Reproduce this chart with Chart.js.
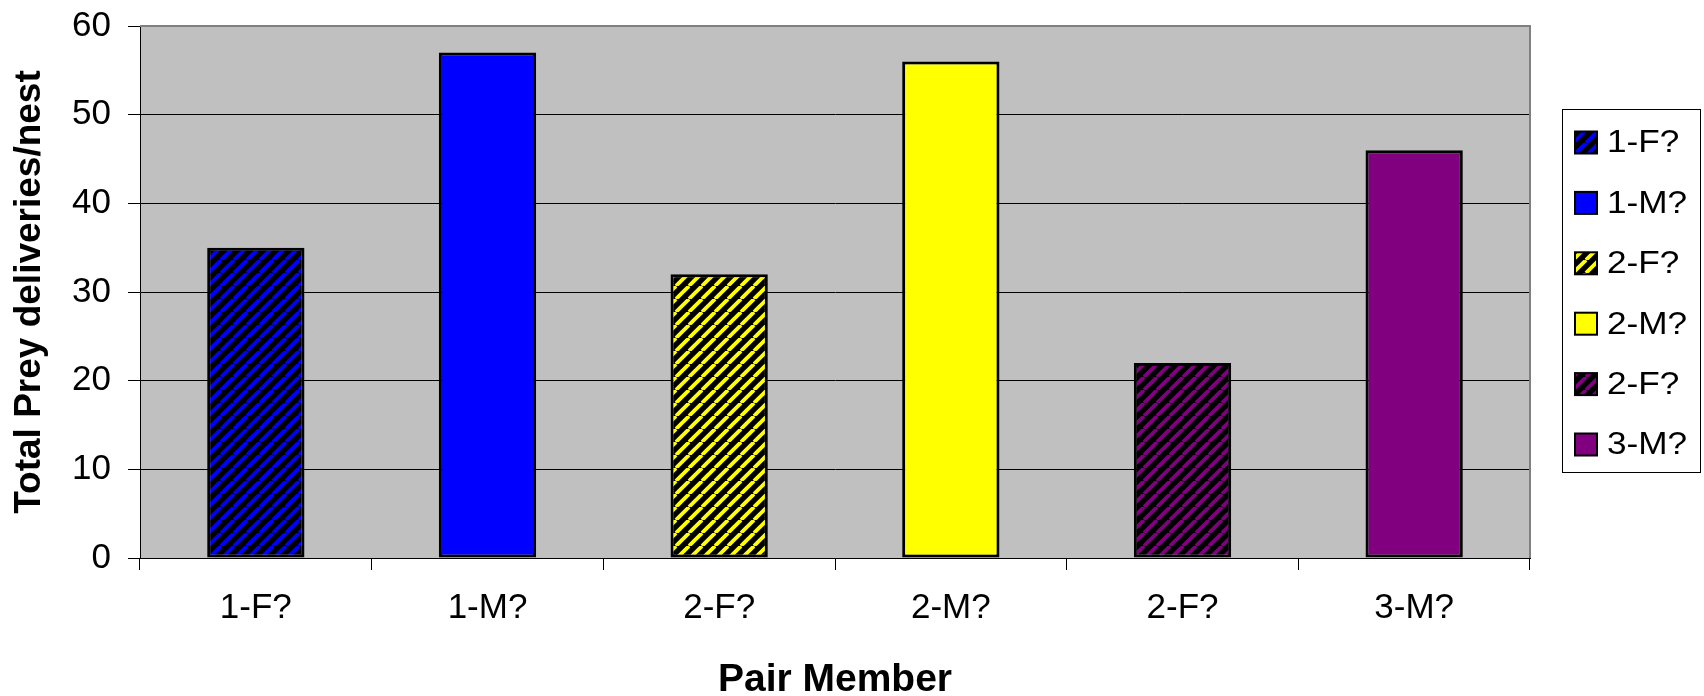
<!DOCTYPE html>
<html>
<head>
<meta charset="utf-8">
<script src="https://cdn.jsdelivr.net/npm/chart.js@4.4.1/dist/chart.umd.min.js"></script>
<style>
  html, body { margin: 0; padding: 0; background: #fff; }
  canvas { display: block; }
</style>
</head>
<body>
<canvas id="chart" width="1704" height="696"></canvas>
<script>
// Prey deliveries per nest, by pair member
const categories = ['1-F?', '1-M?', '2-F?', '2-M?', '2-F?', '3-M?'];
const deliveries = [35, 57, 32, 56, 22, 46];
const barColors = ['#0000FF', '#0000FF', '#FFFF00', '#FFFF00', '#800080', '#800080'];
const hatched = [true, false, true, false, true, false];
const yMin = 0, yMax = 60, yStep = 10;
const xTitle = 'Pair Member';
const yTitle = 'Total Prey deliveries/nest';

const FONT = '"Liberation Sans", Arial, sans-serif';

// Black-on-colour upward diagonal stripes
function stripePattern(color) {
  const P = 13;
  const c = document.createElement('canvas');
  c.width = P; c.height = P;
  const g = c.getContext('2d');
  g.fillStyle = '#000';
  g.fillRect(0, 0, P, P);
  g.strokeStyle = color;
  g.lineWidth = 3.8;
  for (let k = -1; k <= 1; k++) {
    g.beginPath();
    g.moveTo(k * P, P);
    g.lineTo(k * P + P, 0);
    g.stroke();
  }
  return g.createPattern(c, 'repeat');
}

const fills = categories.map((_, i) => hatched[i] ? stripePattern(barColors[i]) : barColors[i]);

const plotBackground = {
  id: 'plotBackground',
  beforeDraw(chart) {
    const { ctx, chartArea: a } = chart;
    ctx.save();
    ctx.fillStyle = '#C0C0C0';
    ctx.fillRect(a.left, a.top, a.right - a.left, a.bottom - a.top);
    ctx.restore();
  },
  beforeDatasetsDraw(chart) {
    const { ctx, chartArea: a } = chart;
    ctx.save();
    ctx.strokeStyle = '#808080';
    ctx.lineWidth = 2;
    ctx.beginPath();
    ctx.moveTo(a.left, a.top);
    ctx.lineTo(a.right, a.top);
    ctx.lineTo(a.right, a.bottom);
    ctx.stroke();
    ctx.restore();
  }
};

const titlesAndLegend = {
  id: 'titlesAndLegend',
  afterDraw(chart) {
    const { ctx, chartArea: a } = chart;
    ctx.save();
    ctx.fillStyle = '#000';

    // axis titles
    ctx.font = 'bold 39px ' + FONT;
    ctx.textAlign = 'center';
    ctx.textBaseline = 'alphabetic';
    ctx.fillText(xTitle, (a.left + a.right) / 2, 691);

    ctx.save();
    ctx.translate(40, (a.top + a.bottom) / 2);
    ctx.rotate(-Math.PI / 2);
    ctx.font = 'bold 37px ' + FONT;
    ctx.fillText(yTitle, 0, 0);
    ctx.restore();

    // legend
    const bx = 1562, by = 109, bw = 138, bh = 363;
    ctx.fillStyle = '#fff';
    ctx.fillRect(bx, by, bw, bh);
    ctx.strokeStyle = '#000';
    ctx.lineWidth = 1;
    ctx.strokeRect(bx + 0.5, by + 0.5, bw, bh);

    const labels = chart.data.labels;
    const ds = chart.data.datasets[0];
    ctx.font = '32px ' + FONT;
    ctx.textAlign = 'left';
    ctx.textBaseline = 'middle';
    labels.forEach((lab, i) => {
      const cy = 142.5 + i * 60.4;
      ctx.fillStyle = ds.backgroundColor[i];
      ctx.fillRect(1575, cy - 11, 22, 22);
      ctx.strokeStyle = '#000';
      ctx.lineWidth = 2;
      ctx.strokeRect(1575, cy - 11, 22, 22);
      ctx.fillStyle = '#000';
      ctx.save();
      ctx.translate(1607, cy + 1);
      ctx.scale(1.1, 1);
      ctx.fillText(lab, 0, 0);
      ctx.restore();
    });
    ctx.restore();
  }
};

new Chart(document.getElementById('chart'), {
  type: 'bar',
  data: {
    labels: categories,
    datasets: [{
      data: deliveries,
      backgroundColor: fills,
      borderColor: '#000',
      borderWidth: 3,
      borderSkipped: false,
      categoryPercentage: 1,
      barPercentage: 0.42
    }]
  },
  options: {
    responsive: false,
    animation: false,
    events: [],
    layout: { padding: { top: 26, right: 174, left: 0, bottom: 0 } },
    plugins: { legend: { display: false }, tooltip: { enabled: false } },
    scales: {
      x: {
        offset: true,
        grid: { offset: true, drawOnChartArea: false, drawTicks: true, tickLength: 12, tickColor: '#000', lineWidth: 1 },
        border: { display: true, color: '#000', width: 1 },
        ticks: { font: { family: FONT, size: 35 }, color: '#000', padding: 17, autoSkip: false, maxRotation: 0 },
        afterFit(s) { s.height = 138; s.paddingLeft = 0; s.paddingRight = 0; }
      },
      y: {
        min: yMin,
        max: yMax,
        ticks: { stepSize: yStep, font: { family: FONT, size: 35 }, color: '#000', padding: 17 },
        grid: { color: '#000', lineWidth: 1, tickLength: 12, tickColor: '#000' },
        border: { display: true, color: '#000', width: 1 },
        afterFit(s) { s.width = 140; s.paddingTop = 0; s.paddingBottom = 0; }
      }
    }
  },
  plugins: [plotBackground, titlesAndLegend]
});
</script>
</body>
</html>
